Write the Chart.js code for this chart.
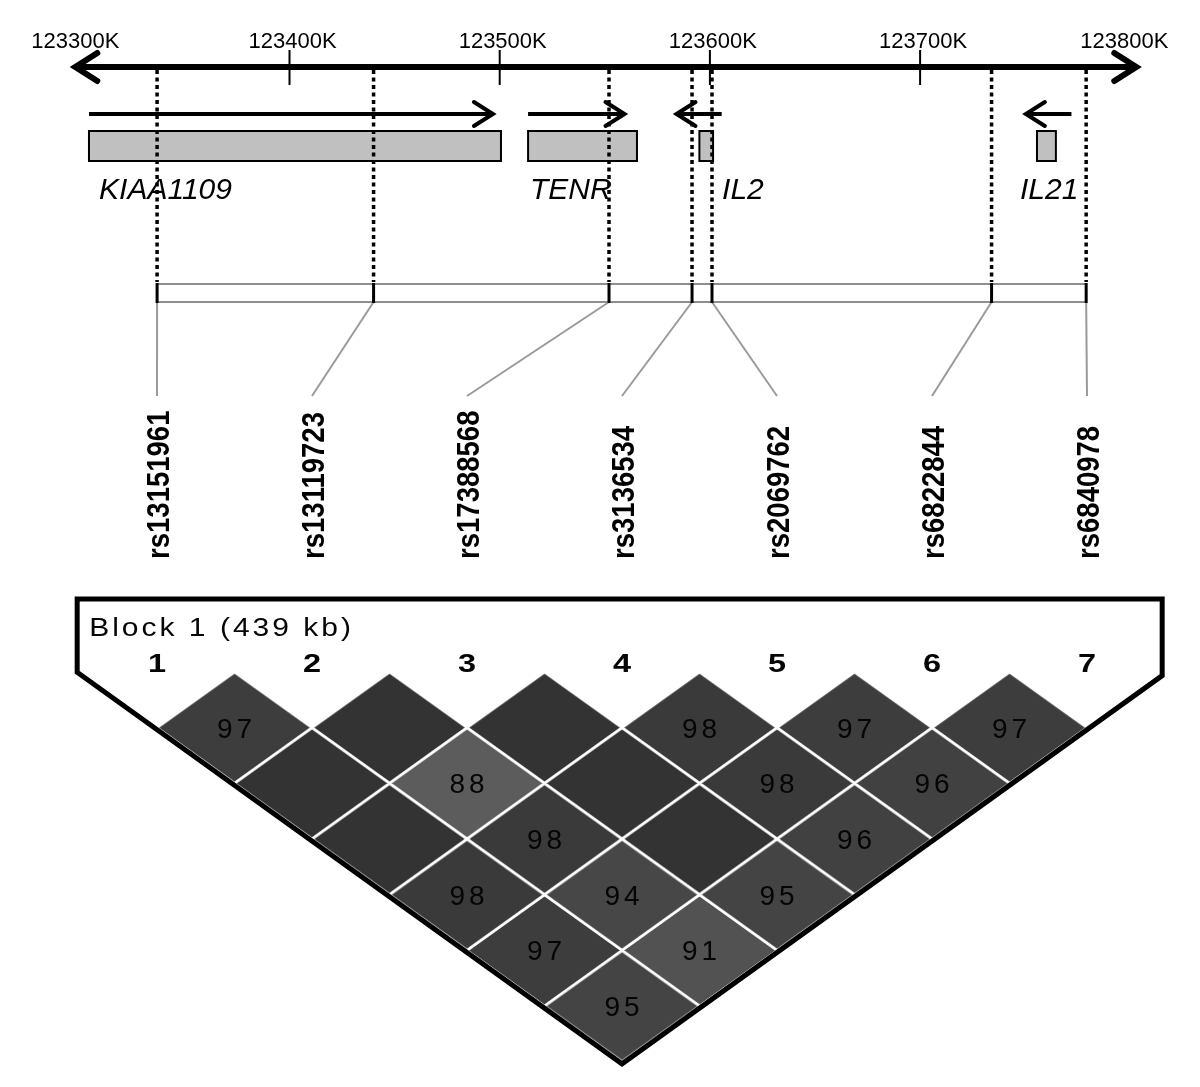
<!DOCTYPE html>
<html>
<head>
<meta charset="utf-8">
<script src="https://cdn.jsdelivr.net/npm/chart.js@4.4.1/dist/chart.umd.min.js"></script>
<style>
    html, body { margin: 0; padding: 0; background: #fff; }
    #wrap { width: 1200px; height: 1087px; }
</style>
</head>
<body>
<div id="wrap"><canvas id="ldPlot" width="1200" height="1087"></canvas></div>
<script>
// markers, chr4 positions in kb
const snpNames = ['rs13151961', 'rs13119723', 'rs17388568', 'rs3136534', 'rs2069762', 'rs6822844', 'rs6840978'];
const snpKb = [123337, 123440, 123552, 123591.5, 123601, 123734, 123779];
const markerNums = ['1', '2', '3', '4', '5', '6', '7'];

// genes
const geneNames = ['KIAA1109', 'TENR', 'IL2', 'IL21'];
const geneStart = [123304.6, 123513.5, 123595.0, 123755.6];
const geneEnd = [123500.6, 123565.3, 123601.5, 123764.6];
const arrowFrom = [123304.6, 123513.5, 123605.6, 123772.0];
const arrowTo = [123498.2, 123560.8, 123582.7, 123748.9];
const geneLabelAt = [123309.4, 123514.4, 123605.8, 123747.5];

// genomic axis
const axisTicks = [123300, 123400, 123500, 123600, 123700, 123800];
const axisLabels = axisTicks.map(t => t + 'K');

// LD values (x100), by marker distance; 100 = not printed
const blockLabel = 'Block 1 (439 kb)';
const ldDist1 = [97, 100, 100, 98, 97, 97];
const ldDist2 = [100, 88, 100, 98, 96];
const ldDist3 = [100, 98, 100, 96];
const ldDist4 = [98, 94, 95];
const ldDist5 = [97, 91];
const ldDist6 = [95];
const ldRows = [ldDist1, ldDist2, ldDist3, ldDist4, ldDist5, ldDist6];

const ldCells = [];
ldRows.forEach((row, r) => {
    row.forEach((v, i) => {
        let a = i + 1, b = i + 2 + r;
        ldCells.push({ x: (a + b) / 2, y: b - a, v: v });
    });
});

// layout (pixel rows on the y scale)
const AXIS_Y = 67, TICK_TOP = 50, TICK_BOTTOM = 85, TICK_LABEL_Y = 48;
const ARROW_Y = 114, BOX_TOP = 131, BOX_BOTTOM = 161, GENE_LABEL_Y = 199;
const BAR_TOP = 284, BAR_BOTTOM = 302, LINK_END_Y = 396, NAME_BASE_Y = 559;
const BLOCK_TOP_Y = 599, BLOCK_LABEL_Y = 627, MARKER_NUM_Y = 663;

const shadeFor = (v) => {
    let g = Math.round(51 + (100 - v) * 3.4);
    return `rgb(${g},${g},${g})`;
};

const diamondCache = {};
const diamondImage = (chart, v) => {
    let ix = chart.scales.idx, ld = chart.scales.ld;
    let w = Math.round(Math.abs(ix.getPixelForValue(1) - ix.getPixelForValue(0)));
    let h = Math.round(Math.abs(ld.getPixelForValue(1) - ld.getPixelForValue(0)) * 2);
    let key = v + '_' + w + '_' + h;
    if (diamondCache[key]) return diamondCache[key];
    let c = document.createElement('canvas');
    c.width = w; c.height = h;
    let g = c.getContext('2d');
    g.beginPath();
    g.moveTo(w / 2, 0); g.lineTo(w, h / 2); g.lineTo(w / 2, h); g.lineTo(0, h / 2);
    g.closePath();
    g.fillStyle = shadeFor(v);
    g.fill();
    g.strokeStyle = '#fff';
    g.lineWidth = 2.6;
    g.stroke();
    diamondCache[key] = c;
    return c;
};

const chevron = (ctx, tipX, y, dir, back, half) => {
    ctx.beginPath();
    ctx.moveTo(tipX - dir * back, y - half);
    ctx.lineTo(tipX, y);
    ctx.lineTo(tipX - dir * back, y + half);
    ctx.stroke();
};

const tracks = {
    id: 'tracks',
    beforeDatasetsDraw(chart) {
        const ctx = chart.ctx;
        const kb = chart.scales.x, py = chart.scales.y, ix = chart.scales.idx;
        const X = v => kb.getPixelForValue(v);
        const Y = v => py.getPixelForValue(v);
        ctx.save();

        // genomic axis with arrows
        let left = X(axisTicks[0]) - 4, right = X(axisTicks[axisTicks.length - 1]) + 6;
        ctx.strokeStyle = '#000';
        ctx.lineWidth = 6;
        ctx.lineCap = 'butt';
        ctx.beginPath();
        ctx.moveTo(left, Y(AXIS_Y)); ctx.lineTo(right, Y(AXIS_Y));
        ctx.stroke();
        ctx.lineCap = 'round';
        chevron(ctx, left, Y(AXIS_Y), -1, 22, 14);
        chevron(ctx, right, Y(AXIS_Y), 1, 22, 14);

        ctx.lineCap = 'butt';
        ctx.lineWidth = 2;
        ctx.fillStyle = '#000';
        ctx.font = '22px Arial, "Liberation Sans", sans-serif';
        ctx.textAlign = 'center';
        ctx.textBaseline = 'alphabetic';
        axisTicks.forEach((t, i) => {
            if (i > 0 && i < axisTicks.length - 1) {
                ctx.beginPath();
                ctx.moveTo(X(t), Y(TICK_TOP)); ctx.lineTo(X(t), Y(TICK_BOTTOM));
                ctx.stroke();
            }
            let nudge = i === 0 ? -4 : (i === axisTicks.length - 1 ? -6 : 3);
            ctx.fillText(axisLabels[i], X(t) + nudge, Y(TICK_LABEL_Y));
        });

        // genes
        geneNames.forEach((name, i) => {
            ctx.fillStyle = '#c0c0c0';
            ctx.strokeStyle = '#000';
            ctx.lineWidth = 2;
            let x0 = X(geneStart[i]), x1 = X(geneEnd[i]);
            ctx.fillRect(x0, Y(BOX_TOP), x1 - x0, Y(BOX_BOTTOM) - Y(BOX_TOP));
            ctx.strokeRect(x0, Y(BOX_TOP), x1 - x0, Y(BOX_BOTTOM) - Y(BOX_TOP));

            let dir = arrowTo[i] > arrowFrom[i] ? 1 : -1;
            let tip = X(arrowTo[i]) - dir * 3;
            ctx.lineWidth = 4;
            ctx.lineCap = 'butt';
            ctx.beginPath();
            ctx.moveTo(X(arrowFrom[i]), Y(ARROW_Y)); ctx.lineTo(tip, Y(ARROW_Y));
            ctx.stroke();
            ctx.lineCap = 'round';
            chevron(ctx, tip, Y(ARROW_Y), dir, 19, 12);

            ctx.fillStyle = '#000';
            ctx.font = 'italic 30px Arial, "Liberation Sans", sans-serif';
            ctx.textAlign = 'left';
            ctx.fillText(name, X(geneLabelAt[i]), Y(GENE_LABEL_Y));
        });

        // dotted drop lines
        ctx.lineCap = 'butt';
        ctx.strokeStyle = '#000';
        ctx.lineWidth = 3.5;
        ctx.setLineDash([4, 3.5]);
        snpKb.forEach(p => {
            ctx.beginPath();
            ctx.moveTo(X(p), Y(AXIS_Y + 3)); ctx.lineTo(X(p), Y(BAR_TOP - 2));
            ctx.stroke();
        });
        ctx.setLineDash([]);

        // marker bar
        let b0 = X(snpKb[0]), b1 = X(snpKb[snpKb.length - 1]);
        ctx.fillStyle = '#fff';
        ctx.fillRect(b0, Y(BAR_TOP), b1 - b0, Y(BAR_BOTTOM) - Y(BAR_TOP));
        ctx.strokeStyle = '#8e8e8e';
        ctx.lineWidth = 2;
        ctx.strokeRect(b0, Y(BAR_TOP), b1 - b0, Y(BAR_BOTTOM) - Y(BAR_TOP));

        // connectors to names
        ctx.strokeStyle = '#9a9a9a';
        ctx.lineWidth = 2;
        snpKb.forEach((p, i) => {
            ctx.beginPath();
            ctx.moveTo(X(p), Y(BAR_BOTTOM)); ctx.lineTo(ix.getPixelForValue(i + 1), Y(LINK_END_Y));
            ctx.stroke();
        });
        ctx.strokeStyle = '#000';
        ctx.lineWidth = 3;
        snpKb.forEach(p => {
            ctx.beginPath();
            ctx.moveTo(X(p), Y(BAR_TOP) - 1); ctx.lineTo(X(p), Y(BAR_BOTTOM) + 1);
            ctx.stroke();
        });

        // marker names, rotated
        ctx.fillStyle = '#000';
        ctx.font = 'bold 32px Arial, "Liberation Sans", sans-serif';
        ctx.textAlign = 'left';
        snpNames.forEach((name, i) => {
            ctx.save();
            ctx.translate(ix.getPixelForValue(i + 1), Y(NAME_BASE_Y));
            ctx.rotate(-Math.PI / 2);
            ctx.scale(0.86, 1);
            ctx.fillText(name, 0, 11.5);
            ctx.restore();
        });
        ctx.restore();
    },
    afterDatasetsDraw(chart) {
        const ctx = chart.ctx;
        const py = chart.scales.y, ix = chart.scales.idx, ld = chart.scales.ld;
        const n = markerNums.length;
        ctx.save();

        // block outline
        let lIdx = 0.485, rIdx = n + 0.485, off = 0.035;
        let topY = py.getPixelForValue(BLOCK_TOP_Y);
        ctx.strokeStyle = '#000';
        ctx.lineWidth = 5;
        ctx.lineJoin = 'miter';
        ctx.beginPath();
        ctx.moveTo(ix.getPixelForValue(lIdx), topY);
        ctx.lineTo(ix.getPixelForValue(lIdx), ld.getPixelForValue(2 * lIdx - 1 + off));
        ctx.lineTo(ix.getPixelForValue((1 + n) / 2), ld.getPixelForValue(n + off));
        ctx.lineTo(ix.getPixelForValue(rIdx), ld.getPixelForValue(2 * n + 1 - 2 * rIdx + off));
        ctx.lineTo(ix.getPixelForValue(rIdx), topY);
        ctx.closePath();
        ctx.stroke();

        // LD numbers
        let meta = chart.getDatasetMeta(0);
        ctx.fillStyle = '#050505';
        ctx.font = '28px Arial, "Liberation Sans", sans-serif';
        ctx.letterSpacing = '4px';
        ctx.textAlign = 'center';
        ctx.textBaseline = 'alphabetic';
        meta.data.forEach((el, i) => {
            let v = ldCells[i].v;
            if (v < 100) ctx.fillText(String(v), el.x + 2, el.y + 10);
        });

        // marker numbers
        ctx.letterSpacing = '0px';
        ctx.font = 'bold 25px Arial, "Liberation Sans", sans-serif';
        markerNums.forEach((m, i) => {
            ctx.save();
            ctx.translate(ix.getPixelForValue(i + 1), py.getPixelForValue(MARKER_NUM_Y) + 9);
            ctx.scale(1.3, 1);
            ctx.fillText(m, 0, 0);
            ctx.restore();
        });

        // block label
        ctx.textAlign = 'left';
        ctx.font = '25px Arial, "Liberation Sans", sans-serif';
        ctx.save();
        ctx.translate(ix.getPixelForValue(lIdx) + 12, py.getPixelForValue(BLOCK_LABEL_Y) + 9);
        ctx.scale(1.2, 1);
        ctx.letterSpacing = '2.5px';
        ctx.fillText(blockLabel, 0, 0);
        ctx.restore();
        ctx.restore();
    }
};

const ldPlot = new Chart(document.getElementById('ldPlot'), {
    type: 'scatter',
    data: {
        datasets: [{
            label: 'LD',
            data: ldCells,
            xAxisID: 'idx',
            yAxisID: 'ld',
            pointRadius: 1,
            pointStyle: (c) => diamondImage(c.chart, c.raw ? c.raw.v : 100),
        }]
    },
    options: {
        responsive: false,
        animation: false,
        devicePixelRatio: 1,
        events: [],
        layout: { padding: 0, autoPadding: false },
        plugins: { legend: { display: false }, tooltip: { enabled: false } },
        scales: {
            x: { type: 'linear', min: 123262.27, max: 123833.16, display: false },
            y: { type: 'linear', min: 0, max: 1087, reverse: true, display: false },
            idx: { type: 'linear', axis: 'x', min: -0.0129, max: 7.729, display: false },
            ld: { type: 'linear', axis: 'y', min: -12.065, max: 7.451, reverse: true, display: false },
        }
    },
    plugins: [tracks]
});
</script>
</body>
</html>
